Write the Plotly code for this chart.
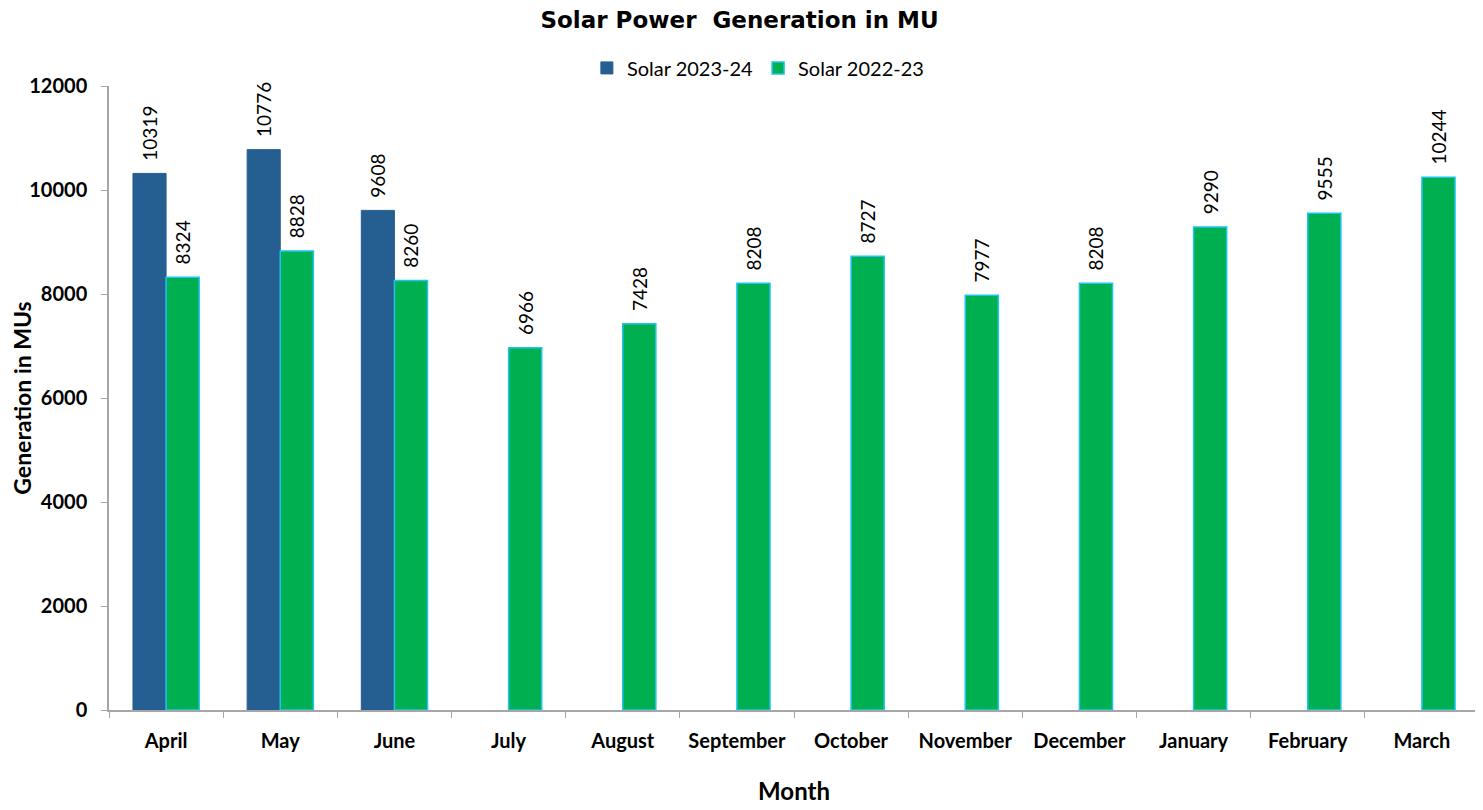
import plotly.graph_objects as go

months = ["April", "May", "June", "July", "August", "September", "October",
          "November", "December", "January", "February", "March"]
solar_2023_24 = [10319, 10776, 9608, None, None, None, None, None, None, None, None, None]
solar_2022_23 = [8324, 8828, 8260, 6966, 7428, 8208, 8727, 7977, 8208, 9290, 9555, 10244]

font_family = "Lato, 'Open Sans', sans-serif"
pad = "\u00a0\u00a0"

fig = go.Figure()
fig.add_trace(go.Bar(
    x=months, y=solar_2023_24, name="Solar 2023-24",
    marker=dict(color="#255E91", line=dict(color="#255E91", width=1)),
    text=[pad + str(v) if v is not None else "" for v in solar_2023_24],
    textposition="outside", textangle=-90, constraintext="none",
    textfont=dict(size=19, color="#000000", family=font_family),
    cliponaxis=False,
))
fig.add_trace(go.Bar(
    x=months, y=solar_2022_23, name="Solar 2022-23",
    marker=dict(color="#00B050", line=dict(color="#1FC4F0", width=1.5)),
    text=[pad + str(v) for v in solar_2022_23],
    textposition="outside", textangle=-90, constraintext="none",
    textfont=dict(size=19, color="#000000", family=font_family),
    cliponaxis=False,
))

fig.update_layout(
    width=1475, height=802,
    margin=dict(l=101, r=4, t=78, b=100),
    paper_bgcolor="white", plot_bgcolor="white",
    barmode="group", bargap=0.42, bargroupgap=0,
    font=dict(family=font_family, color="#000000"),
    title=dict(text="<b>Solar Power  Generation in MU</b>", x=0.496, xanchor="center",
               y=0.985, yanchor="middle",
               font=dict(size=23, family="'DejaVu Sans', sans-serif")),
    legend=dict(orientation="h", x=0.474, xanchor="center", y=1.029, yanchor="middle",
                font=dict(size=20, family=font_family), itemwidth=30,
                traceorder="normal", bgcolor="rgba(0,0,0,0)"),
    xaxis=dict(
        title=dict(text="<b>Month</b>", font=dict(size=24), standoff=32),
        showline=True, linecolor="#A6A6A6", linewidth=1.5,
        ticks="outside", tickson="boundaries", ticklen=6, tickcolor="#A6A6A6",
        ticklabelstandoff=12,
        tickfont=dict(size=20, family=font_family), showgrid=False,
        tickprefix="<b>", ticksuffix="</b>",
    ),
    yaxis=dict(
        title=dict(text="<b>Generation in MUs</b>", font=dict(size=23), standoff=0),
        range=[0, 12000], dtick=2000, tickformat="d",
        showline=True, linecolor="#A6A6A6", linewidth=1.5,
        ticks="outside", ticklen=6, tickcolor="#A6A6A6",
        ticklabelstandoff=10,
        tickfont=dict(size=20, family=font_family), showgrid=False, zeroline=False,
        tickprefix="<b>", ticksuffix="</b>",
    ),
)

fig.write_html("out.html")
